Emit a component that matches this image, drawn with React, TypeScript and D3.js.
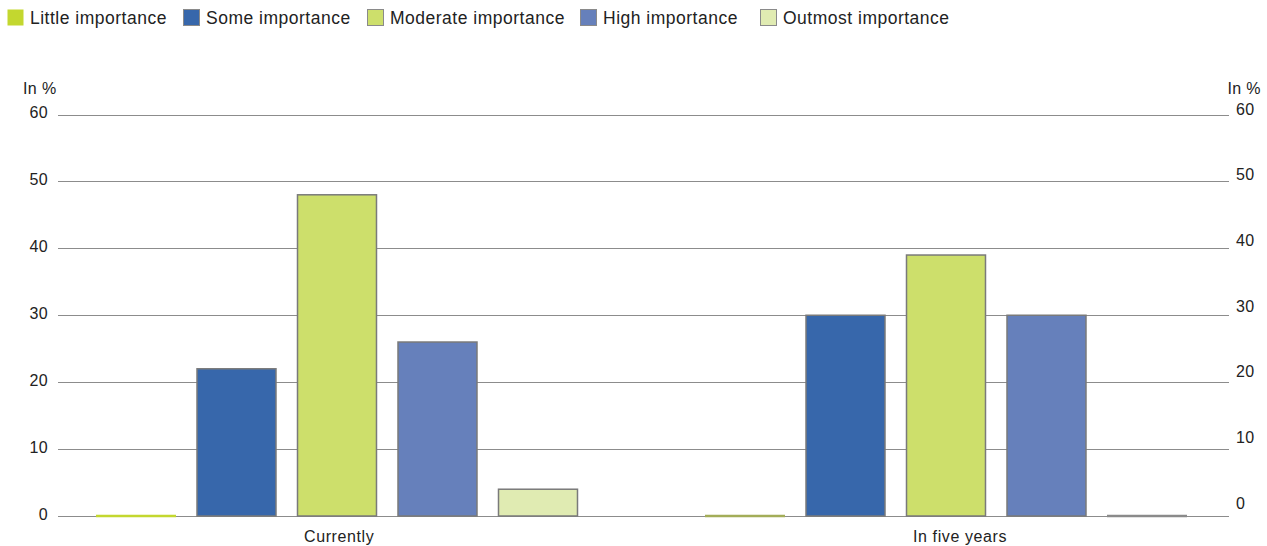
import React from "react";
import * as d3 from "d3";

// Survey shares (in %) by importance level, for two time horizons
const groups = ["Currently", "In five years"];
const seriesNames = [
  "Little importance",
  "Some importance",
  "Moderate importance",
  "High importance",
  "Outmost importance",
];
const currently = [0, 22, 48, 26, 4];
const inFiveYears = [0, 30, 39, 30, 0];
const yTicks = [0, 10, 20, 30, 40, 50, 60];

const seriesColors = ["#c3d72f", "#3767ab", "#cddf6b", "#6680bb", "#e0ebb2"];
const seriesStrokes = ["#c3d72f", "#7a7a7a", "#7a7a7a", "#7a7a7a", "#7a7a7a"];
const zeroStrokes = ["#c3d72f", "#7a7a7a", "#7a7a7a", "#7a7a7a", "#8a8a8a"];

const W = 1267;
const H = 546;
const FONT = "'Liberation Sans', Arial, Helvetica, sans-serif";
const TEXT = "#222";

export default function App() {
  const values = [currently, inFiveYears];

  const y = d3.scaleLinear().domain([0, 60]).range([516, 114.5]);
  // the right-hand axis labels sit on their own, slightly raised scale
  const yRight = d3.scaleLinear().domain([0, 60]).range([503, 109]);
  const x0 = d3.scaleBand<string>().domain(groups).range([31.5, 1249.5]);
  const x1 = d3
    .scaleBand<string>()
    .domain(seriesNames)
    .range([54.25, 556.75])
    .paddingInner(0.204)
    .paddingOuter(0.102);

  const gridLeft = 58;
  const gridRight = 1229;

  const legendX = [7, 183, 367, 580, 760];

  return (
    <svg
      width={W}
      height={H}
      style={{ position: "absolute", left: 0, top: 0, display: "block", background: "#fff" }}
    >
      {/* legend */}
      {seriesNames.map((name, i) => (
        <g key={name} transform={`translate(${legendX[i]},9)`}>
          <rect
            x={0.5}
            y={0.5}
            width={16}
            height={16}
            fill={seriesColors[i]}
            stroke={i === 0 ? "none" : "#8a8a8a"}
            strokeWidth={1}
          />
          <text
            x={23}
            y={15}
            fontFamily={FONT}
            fontSize={17.5}
            letterSpacing={0.5}
            fill={TEXT}
          >
            {name}
          </text>
        </g>
      ))}

      {/* axis titles */}
      <text x={23} y={94} fontFamily={FONT} fontSize={16} letterSpacing={0.4} fill={TEXT}>
        In %
      </text>
      <text
        x={1261}
        y={94}
        textAnchor="end"
        fontFamily={FONT}
        fontSize={16}
        letterSpacing={0.4}
        fill={TEXT}
      >
        In %
      </text>

      {/* gridlines and tick labels */}
      {yTicks.map((t) => (
        <g key={t}>
          <line
            x1={gridLeft}
            x2={gridRight}
            y1={Math.round(y(t)) + 0.5}
            y2={Math.round(y(t)) + 0.5}
            stroke="#8c8c8c"
            strokeWidth={1.2}
          />
          <text
            x={48}
            y={y(t) - 2}
            dy="0.35em"
            textAnchor="end"
            fontFamily={FONT}
            fontSize={16}
            letterSpacing={0.4}
            fill={TEXT}
          >
            {t}
          </text>
          <text
            x={1236}
            y={yRight(t)}
            dy="0.35em"
            fontFamily={FONT}
            fontSize={16}
            letterSpacing={0.4}
            fill={TEXT}
          >
            {t}
          </text>
        </g>
      ))}

      {/* bars */}
      {groups.map((g, gi) => (
        <g key={g} transform={`translate(${x0(g)},0)`}>
          {seriesNames.map((s, si) => {
            const v = values[gi][si];
            const top = y(v);
            const h = y(0) - top;
            if (v === 0) {
              return (
                <line
                  key={s}
                  x1={x1(s)!}
                  x2={x1(s)! + x1.bandwidth()}
                  y1={y(0)}
                  y2={y(0)}
                  stroke={gi === 1 && si === 0 ? "#a3ad58" : zeroStrokes[si]}
                  strokeWidth={2.5}
                />
              );
            }
            return (
              <rect
                key={s}
                x={x1(s)! + 0.5}
                y={top}
                width={x1.bandwidth() - 1}
                height={h}
                fill={seriesColors[si]}
                stroke={seriesStrokes[si]}
                strokeWidth={1.5}
              />
            );
          })}
          <text
            x={272.5}
            y={542}
            fontFamily={FONT}
            fontSize={16}
            letterSpacing={0.6}
            fill={TEXT}
          >
            {g}
          </text>
        </g>
      ))}
    </svg>
  );
}
